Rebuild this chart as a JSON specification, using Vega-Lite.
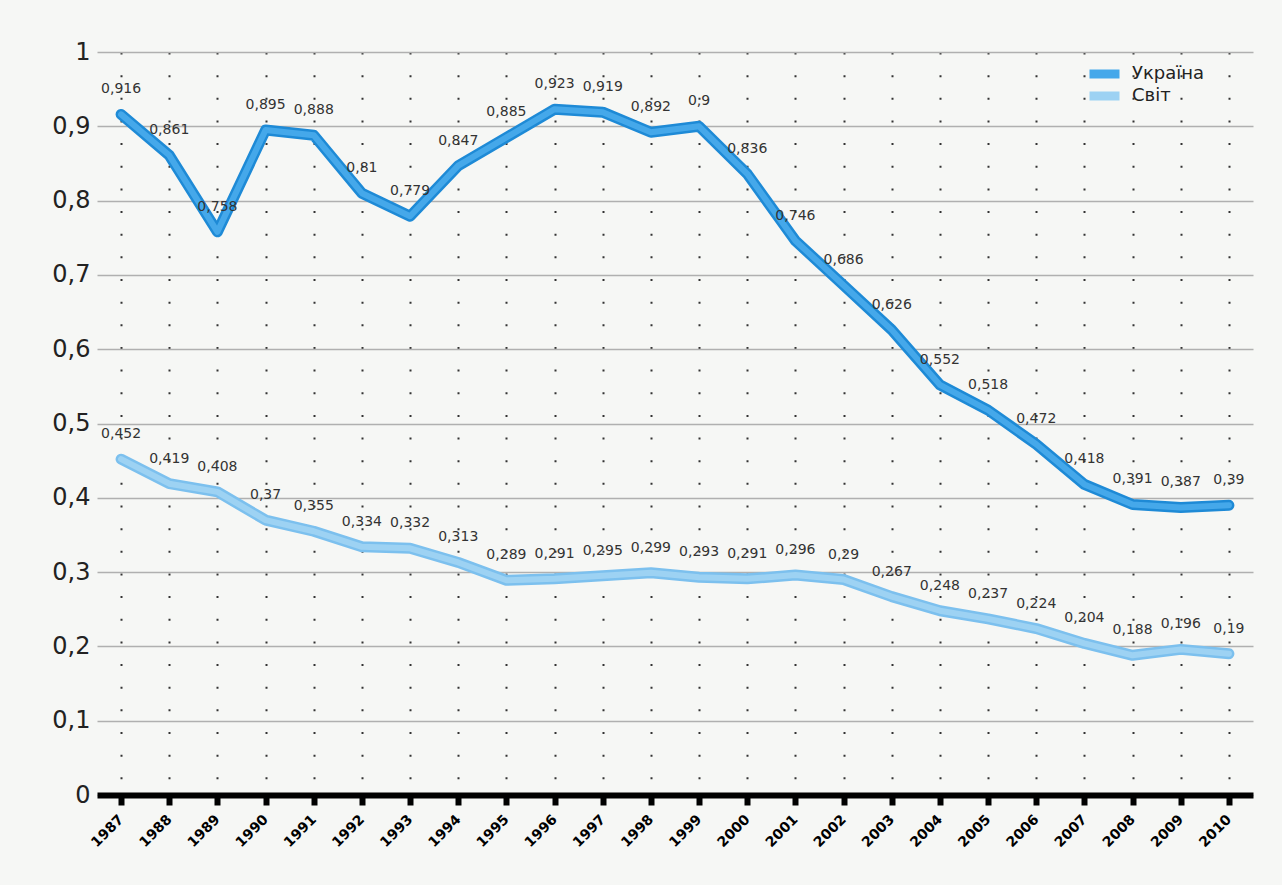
{
  "$schema": "https://vega.github.io/schema/vega-lite/v6.json",
  "width": 1156,
  "height": 743,
  "autosize": {"type": "none"},
  "padding": {"left": 97, "top": 52, "right": 29, "bottom": 90},
  "background": "#f6f7f5",
  "config": {
    "view": {"stroke": null},
    "font": "DejaVu Sans",
    "locale": {"number": {"decimal": ",", "thousands": " ", "grouping": [3], "currency": ["", ""]}}
  },
  "data": {"values": [
    {"year": "1987", "series": "Україна", "value": 0.916},
    {"year": "1988", "series": "Україна", "value": 0.861},
    {"year": "1989", "series": "Україна", "value": 0.758},
    {"year": "1990", "series": "Україна", "value": 0.895},
    {"year": "1991", "series": "Україна", "value": 0.888},
    {"year": "1992", "series": "Україна", "value": 0.81},
    {"year": "1993", "series": "Україна", "value": 0.779},
    {"year": "1994", "series": "Україна", "value": 0.847},
    {"year": "1995", "series": "Україна", "value": 0.885},
    {"year": "1996", "series": "Україна", "value": 0.923},
    {"year": "1997", "series": "Україна", "value": 0.919},
    {"year": "1998", "series": "Україна", "value": 0.892},
    {"year": "1999", "series": "Україна", "value": 0.9},
    {"year": "2000", "series": "Україна", "value": 0.836},
    {"year": "2001", "series": "Україна", "value": 0.746},
    {"year": "2002", "series": "Україна", "value": 0.686},
    {"year": "2003", "series": "Україна", "value": 0.626},
    {"year": "2004", "series": "Україна", "value": 0.552},
    {"year": "2005", "series": "Україна", "value": 0.518},
    {"year": "2006", "series": "Україна", "value": 0.472},
    {"year": "2007", "series": "Україна", "value": 0.418},
    {"year": "2008", "series": "Україна", "value": 0.391},
    {"year": "2009", "series": "Україна", "value": 0.387},
    {"year": "2010", "series": "Україна", "value": 0.39},
    {"year": "1987", "series": "Світ", "value": 0.452},
    {"year": "1988", "series": "Світ", "value": 0.419},
    {"year": "1989", "series": "Світ", "value": 0.408},
    {"year": "1990", "series": "Світ", "value": 0.37},
    {"year": "1991", "series": "Світ", "value": 0.355},
    {"year": "1992", "series": "Світ", "value": 0.334},
    {"year": "1993", "series": "Світ", "value": 0.332},
    {"year": "1994", "series": "Світ", "value": 0.313},
    {"year": "1995", "series": "Світ", "value": 0.289},
    {"year": "1996", "series": "Світ", "value": 0.291},
    {"year": "1997", "series": "Світ", "value": 0.295},
    {"year": "1998", "series": "Світ", "value": 0.299},
    {"year": "1999", "series": "Світ", "value": 0.293},
    {"year": "2000", "series": "Світ", "value": 0.291},
    {"year": "2001", "series": "Світ", "value": 0.296},
    {"year": "2002", "series": "Світ", "value": 0.29},
    {"year": "2003", "series": "Світ", "value": 0.267},
    {"year": "2004", "series": "Світ", "value": 0.248},
    {"year": "2005", "series": "Світ", "value": 0.237},
    {"year": "2006", "series": "Світ", "value": 0.224},
    {"year": "2007", "series": "Світ", "value": 0.204},
    {"year": "2008", "series": "Світ", "value": 0.188},
    {"year": "2009", "series": "Світ", "value": 0.196},
    {"year": "2010", "series": "Світ", "value": 0.19}
  ]},
  "encoding": {
    "x": {
      "field": "year", "type": "ordinal",
      "scale": {"type": "point", "padding": 0.5},
      "axis": {
        "title": null,
        "domainColor": "#000", "domainWidth": 6,
        "tickColor": "#000", "tickWidth": 6, "tickSize": 10,
        "labelAngle": -45, "labelAlign": "right", "labelBaseline": "middle",
        "labelFontSize": 14, "labelFontWeight": "bold", "labelColor": "#000",
        "labelPadding": 12,
        "grid": true, "gridColor": "#333", "gridWidth": 2,
        "gridDash": [2, 20.65]
      }
    },
    "y": {
      "field": "value", "type": "quantitative",
      "scale": {"domain": [0, 1]},
      "axis": {
        "title": null, "values": [0, 0.1, 0.2, 0.3, 0.4, 0.5, 0.6, 0.7, 0.8, 0.9, 1],
        "format": ".1~f",
        "domain": false, "ticks": false,
        "labelFontSize": 24, "labelColor": "#222", "labelPadding": 7,
        "grid": true, "gridColor": "#b0b0b0", "gridWidth": 1.5
      }
    }
  },
  "layer": [
    {
      "mark": {"type": "line", "strokeWidth": 11, "strokeCap": "round", "strokeJoin": "round"},
      "encoding": {
        "color": {"field": "series", "type": "nominal",
          "scale": {"domain": ["Україна", "Світ"], "range": ["#1e8ad6", "#7cc0ee"]},
          "legend": null}
      }
    },
    {
      "mark": {"type": "line", "strokeWidth": 6, "strokeCap": "round", "strokeJoin": "round"},
      "encoding": {
        "color": {"field": "series", "type": "nominal",
          "scale": {"domain": ["Україна", "Світ"], "range": ["#45a8ea", "#9dd2f3"]},
          "legend": {
            "title": null, "orient": "none", "legendX": 988, "legendY": 13,
            "symbolType": "stroke", "symbolSize": 900, "symbolStrokeWidth": 9,
            "clipHeight": 18,
            "labelFontSize": 18, "labelColor": "#222", "rowPadding": 4,
            "labelOffset": 8
          }
        }
      }
    },
    {
      "mark": {"type": "text", "dy": -25, "fontSize": 14, "color": "#333"},
      "encoding": {
        "text": {"field": "value", "type": "quantitative", "format": ".3~f"}
      }
    }
  ],
  "resolve": {"scale": {"color": "independent"}}
}
